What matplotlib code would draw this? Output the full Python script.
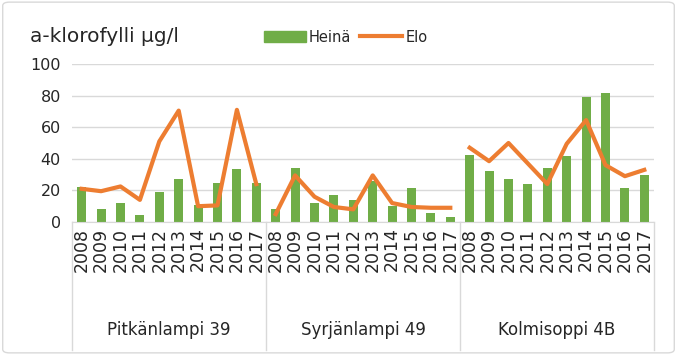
import matplotlib
matplotlib.use('Agg')
import matplotlib.pyplot as plt
import matplotlib.transforms as mtransforms
from matplotlib.patches import FancyBboxPatch, Patch
from matplotlib.lines import Line2D

years = ['2008', '2009', '2010', '2011', '2012', '2013', '2014', '2015', '2016', '2017']
lakes = ['Pitkänlampi 39', 'Syrjänlampi 49', 'Kolmisoppi 4B']

heina = [
    [22, 8, 12, 4.5, 19, 27, 11, 25, 33.5, 25],
    [8, 34, 12, 17, 14, 26, 10, 21.5, 5.5, 3],
    [42.5, 32, 27, 24, 34, 42, 79, 81.5, 21.5, 30],
]
elo = [
    [21, 19.5, 22.5, 14, 51, 70.5, 10, 10.5, 71, 24],
    [5, 29.5, 16, 9.5, 8, 29.5, 12, 9.5, 9, 9],
    [47, 38.5, 50, 37, 24, 49.5, 64.5, 36, 29, 33],
]

GREEN = '#70AD47'
ORANGE = '#ED7D31'
GRID = '#D9D9D9'
TXT = '#262626'

fig = plt.figure(figsize=(6.77, 3.55), dpi=100)
ax = fig.add_axes([72/677, 1-222/355, (654-72)/677, (222-64)/355])

n = len(years)
for g in range(len(lakes)):
    xs = [g*n + i for i in range(n)]
    ax.bar(xs, heina[g], width=0.47, color=GREEN, zorder=2)
    ax.plot(xs, elo[g], color=ORANGE, lw=3, solid_joinstyle='round', zorder=3)

ax.set_xlim(-0.5, len(lakes)*n - 0.5)
ax.set_ylim(0, 100)
ax.set_yticks(range(0, 101, 20))
ax.yaxis.grid(True, color=GRID, lw=1)
ax.set_axisbelow(True)
for s in ['top', 'right', 'left']:
    ax.spines[s].set_visible(False)
ax.spines['bottom'].set_color(GRID)
ax.tick_params(length=0)
ax.tick_params(axis='y', labelsize=11.5, labelcolor=TXT, pad=8)

ax.set_xticks(range(len(lakes)*n))
ax.set_xticklabels(years*len(lakes), rotation=90, fontsize=12.5, color=TXT)
ax.tick_params(axis='x', pad=4)

trans = mtransforms.blended_transform_factory(ax.transData, ax.transAxes)
for k in range(len(lakes)+1):
    x = k*n - 0.5
    ax.plot([x, x], [0, -0.81], transform=trans, color=GRID, lw=1, clip_on=False)
for g, name in enumerate(lakes):
    ax.text(g*n + (n-1)/2, -0.685, name, transform=trans, ha='center', va='center',
            fontsize=12, color=TXT)

fig.text(30/677, 1-37/355, 'a-klorofylli µg/l', fontsize=14.5, color=TXT, va='center')
handles = [Patch(color=GREEN), Line2D([], [], color=ORANGE, lw=3)]
fig.legend(handles, ['Heinä', 'Elo'], loc='center left', bbox_to_anchor=(258/677, 1-37/355),
           ncol=2, frameon=False, fontsize=10.5, handlelength=2.9, handleheight=0.75,
           columnspacing=0.6, handletextpad=0.2, labelcolor=TXT, borderaxespad=0)

fig.patches.append(FancyBboxPatch((0.004, 0.006), 0.992, 0.988, boxstyle='round,pad=0,rounding_size=0.01',
                                  transform=fig.transFigure, fill=False, ec=GRID, lw=1))

fig.savefig('out.png', dpi=100, facecolor='white')
